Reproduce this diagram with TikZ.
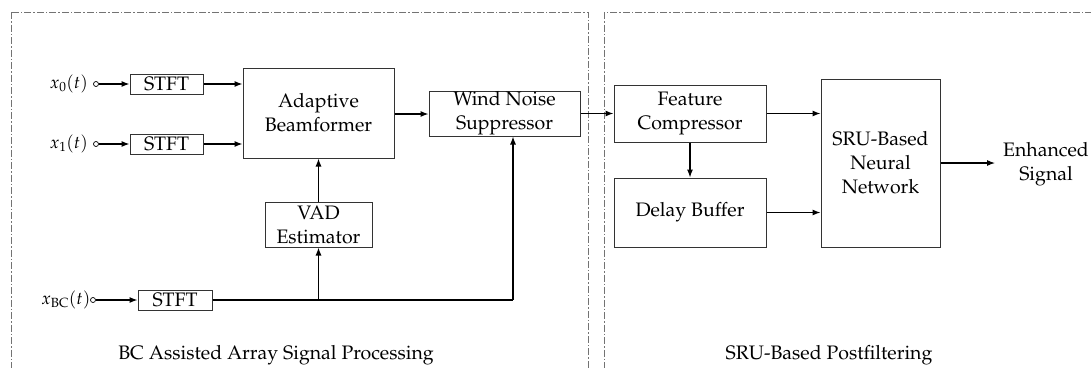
\documentclass[tikz,border=0pt]{standalone}
\usepackage[T1]{fontenc}
\usepackage{mathpazo}
\usetikzlibrary{arrows.meta}
\begin{document}
\begin{tikzpicture}[x=1pt,y=-1pt,
  font=\fontsize{19.5}{24}\selectfont,
  blk/.style={draw=black!80, line width=1pt, align=center, inner sep=0pt},
  arr/.style={-{Latex[length=8pt,width=6pt]}, line width=1.1pt},
  ln/.style={line width=1.1pt},
  region/.style={draw=gray!90!black, line width=0.8pt, dash pattern=on 7pt off 2pt on 1.5pt off 2pt},
  inport/.style={circle, draw, line width=0.7pt, inner sep=0pt, minimum size=5pt},
  lab/.style={inner sep=0pt, anchor=east, font=\fontsize{17.5}{22}\selectfont}]
\useasboundingbox (0,0) rectangle (1091,367);
\begin{scope}
  \clip (0,0) rectangle (1091,367);
  \draw[region] (11,12) rectangle (588,420);
  \draw[region] (604,12) rectangle (1140,420);
\end{scope}
% blocks
\node[blk, minimum width=73pt, minimum height=20pt] (stft1) at (166.5,84) {STFT};
\node[blk, minimum width=73pt, minimum height=20pt] (stft2) at (166.5,144) {STFT};
\node[blk, minimum width=74pt, minimum height=20pt] (stft3) at (175,300) {STFT};
\node[blk, minimum width=151pt, minimum height=90pt] (abf) at (318.5,113) {Adaptive\\Beamformer};
\node[blk, minimum width=151pt, minimum height=45pt] (wns) at (504.5,113.5) {Wind Noise\\Suppressor};
\node[blk, minimum width=107pt, minimum height=45pt] (vad) at (318.5,224.5) {VAD\\Estimator};
\node[blk, minimum width=152pt, minimum height=57pt] (fc) at (690,113.5) {Feature\\Compressor};
\node[blk, minimum width=152pt, minimum height=69pt] (db) at (690,212.5) {Delay Buffer};
\node[blk, minimum width=119pt, minimum height=168pt] (sru) at (880.5,163) {SRU-Based\\Neural\\Network};
\node[align=center, inner sep=0pt] (out) at (1046,164) {Enhanced\\Signal};
% inputs
\node[inport] (in0) at (96,84) {};
\node[inport] (in1) at (96,144) {};
\node[inport] (in2) at (93,300) {};
\node[lab] (l0) at (88,84) {$x_0(t)$};
\node[lab] (l1) at (88,144) {$x_1(t)$};
\node[lab] (l2) at (90.5,300) {$x_{\mathrm{BC}}(t)$};
% region labels
\node (r1) at (276,355) {BC Assisted Array Signal Processing};
\node (r2) at (829,355) {SRU-Based Postfiltering};
% coordinates
\coordinate (j) at (513,300);
\coordinate (b) at (318.5,300);
\coordinate (o) at (995,163);
% connectors
\draw[arr] (in0) -- (stft1);
\draw[arr] (in1) -- (stft2);
\draw[arr] (in2) -- (stft3);
\draw[arr] (stft1) -- (abf.west |- stft1);
\draw[arr] (stft2) -- (abf.west |- stft2);
\draw[arr] ([yshift=-1pt]abf.east) -- ([yshift=-1pt]wns.west |- abf.east);
\draw[arr] (wns.east) -- (fc.west |- wns.east);
\draw[arr] (vad) -- (abf);
\draw[ln] (stft3) -- (j);
\draw[arr] (j) -- (wns.south -| j);
\draw[arr] (b) -- (vad);
\draw[arr] (fc.east) -- (sru.west |- fc.east);
\draw[arr] (db.east) -- (sru.west |- db.east);
\draw[arr] (fc) -- (db);
\draw[arr] (sru.east) -- (o);
\end{tikzpicture}
\end{document}
